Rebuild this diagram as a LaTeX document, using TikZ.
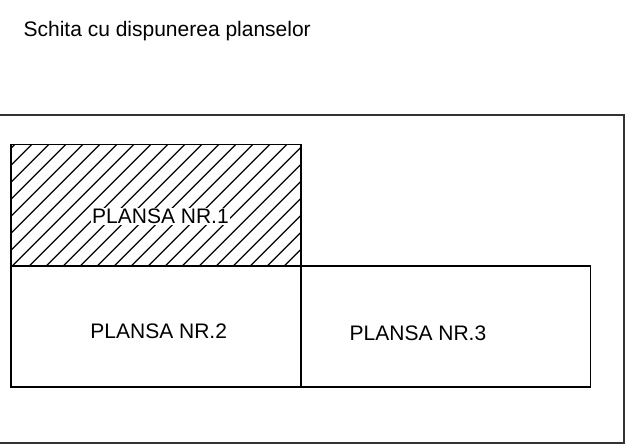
\documentclass[tikz,border=0pt]{standalone}
\usepackage{fontspec}
\setmainfont{Liberation Sans}
\usetikzlibrary{positioning}

\tikzset{plansa/.style={draw,line width=0.8pt,inner sep=0pt,outer sep=0pt,
                        minimum height=60.7pt},
         eticheta/.style={font=\fontsize{10.5}{12}\selectfont,inner sep=0.6pt}}

\begin{document}
\begin{tikzpicture}[x=0.5pt,y=-0.5pt]
   \useasboundingbox (0,0) rectangle (631,446);

   % chenarul exterior
   \draw[line width=0.55pt,black!80] (-5,115) rectangle (624,443);
   \node[eticheta,anchor=base west] (titlu) at (22,36.7) {Schita cu dispunerea planselor};

   \node[plansa,minimum width=145pt,anchor=north west] (p1) at (11,144.3) {};
   \node[plansa,minimum width=145pt,below=0pt of p1] (p2) {};
   \node[plansa,minimum width=144.7pt,right=0pt of p2] (p3) {};

   % hasura
   \begin{scope}
    \clip (p1.south west) rectangle (p1.north east);
    \foreach \k in {-5,...,18}
      \draw[line width=0.6pt] (\k*17-21.4,265.7) -- ++(130,-130);
   \end{scope}
   \draw[line width=0.8pt] (p1.south west) rectangle (p1.north east);

   \node[eticheta,fill=white] (t1) at (160.5,216.5) {PLANSA NR.1};
   \node[eticheta] (t2) at (158.7,331.5) {PLANSA NR.2};
   \node[eticheta] (t3) at (418,333.3) {PLANSA NR.3};
\end{tikzpicture}
\end{document}
